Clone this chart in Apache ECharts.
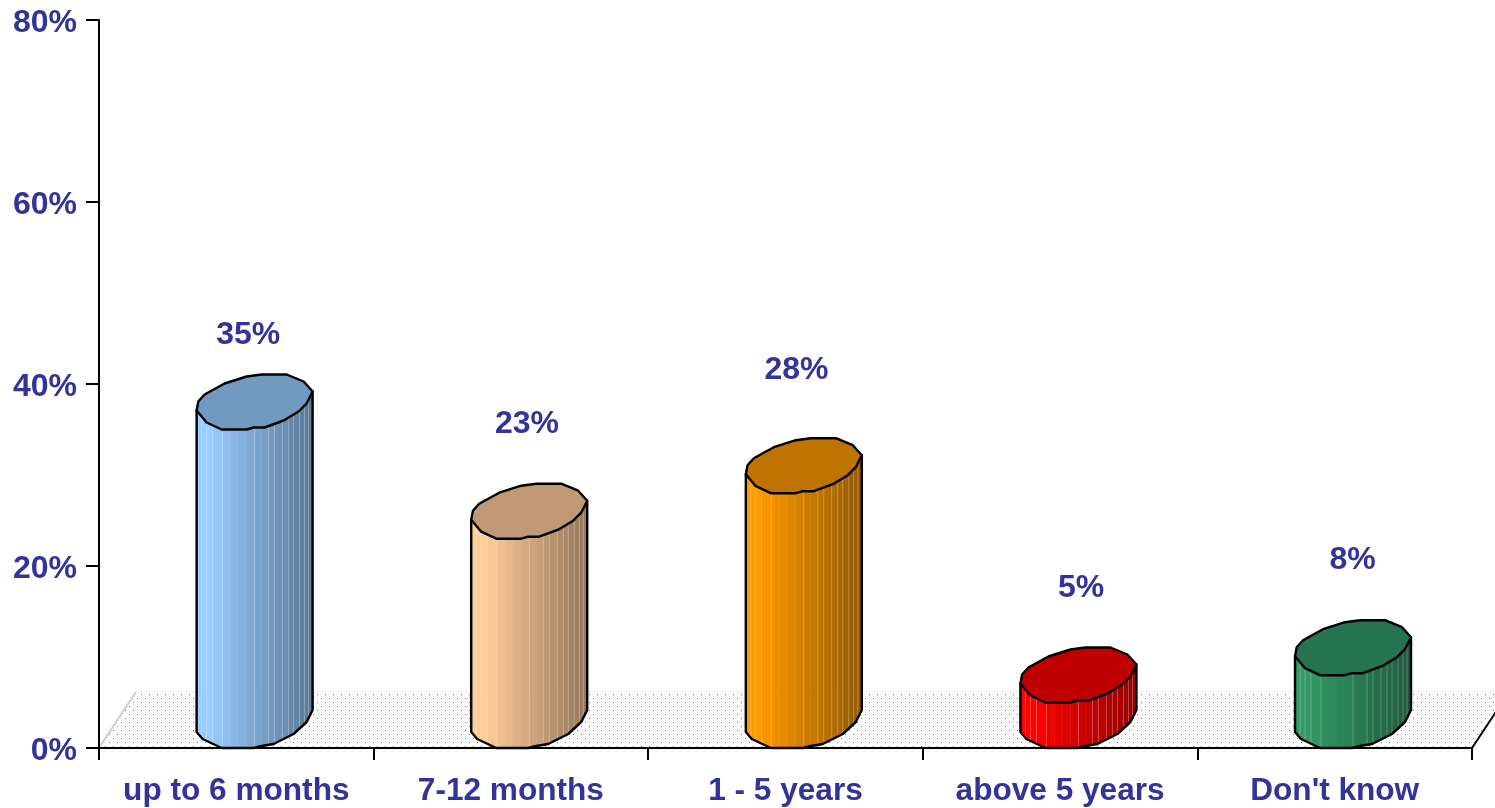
<!DOCTYPE html>
<html><head><meta charset="utf-8">
<style>html,body{margin:0;padding:0;background:#fff}#c{width:1495px;height:808px}</style>
<script src="https://cdn.jsdelivr.net/npm/echarts@6/dist/echarts.min.js"></script>
</head><body><div id="c"></div>
<script>
const categories = ['up to 6 months', '7-12 months', '1 - 5 years', 'above 5 years', "Don't know"];
const values = [35, 23, 28, 5, 8];
const yTicks = [0, 20, 40, 60, 80];

// styling, separate from the data
const bodyColors = ['#99CCFF', '#FFCC99', '#FF9900', '#FF0000', '#339966'];
const topColors = ['#7299BF', '#BF9973', '#BF7300', '#BF0000', '#267350'];
const labelNudge = [[12, -94], [16, -115], [11, -123], [21, -114], [18, -115]];
const INK = '#333399', FONT = '"Liberation Sans", Arial, sans-serif', FS = 32, FSX = 31.6;

// shape of the drawn cylinder, in px relative to left edge and front-bottom of the top disc
const topOutline = [[0,-19],[1.7,-28],[8,-35],[17,-40],[28,-46],[50,-53],[65,-55],[90,-55],[107,-48],[116,-38],[110,-26],[102,-18],[87,-9],[68,-2],[57,-2],[50,0],[25,0],[10,-7]];
const frontArc = [[0,-19],[10,-7],[25,0],[50,0],[57,-2],[68,-2],[87,-9],[102,-18],[110,-26],[116,-38]];
const bottomArc = [[0,-16],[6,-9],[25,0],[57,0],[65,-2],[77,-4],[97,-14],[110,-26],[116,-38]];
const facets = [0,5,10,16,26,34,42,50,58,65,72,78,86,92,97,103,108,112,116];
const lightEdges = [5,10,16,26,58,72,78,86,92,97,103,108,112];

function arcAt(arc,x){
  for(let i=1;i<arc.length;i++){
    const a=arc[i-1],b=arc[i];
    if(x<=b[0]) return a[1]+(b[1]-a[1])*(x-a[0])/((b[0]-a[0])||1);
  }
  return arc[arc.length-1][1];
}
function shade(hex,k){
  const n=parseInt(hex.slice(1),16);
  const c=[n>>16,(n>>8)&255,n&255].map(v=>Math.round(v*k));
  return `rgb(${c[0]},${c[1]},${c[2]})`;
}
function facetShade(x){ // brightest near the left, falling to the right
  const t=x/116; return t<0.12?1:1-(t-0.12)/0.88*0.42;
}
function dotPattern(){
  const c=document.createElement('canvas');c.width=8;c.height=8;
  const g=c.getContext('2d');g.fillStyle='#777';
  g.fillRect(1,2,1,1);g.fillRect(5,6,1,1);
  return c;
}

function renderFloor(params,api){
  const cs=params.coordSys, o=api.coord([0,0]);
  const y0=o[1], x0=cs.x, x1=cs.x+cs.width, dx=37, dy=56;
  return {type:'group',children:[
    {type:'polygon',shape:{points:[[x0,y0],[x0+dx,y0-dy],[x1+dx,y0-dy],[x1,y0]]},
     style:{fill:{image:dotPattern(),repeat:'repeat'},stroke:null}},
    {type:'line',shape:{x1:x0+dx,y1:y0-dy,x2:x1+dx,y2:y0-dy},style:{stroke:'#ececec',lineWidth:1}},
    {type:'line',shape:{x1:x0,y1:y0,x2:x0+dx,y2:y0-dy},style:{stroke:'#cfcfcf',lineWidth:2}},
    {type:'line',shape:{x1:x1,y1:y0,x2:x1+dx,y2:y0-dy},style:{stroke:'#000',lineWidth:2}}
  ]};
}

function renderCylinder(params,api){
  const i=params.dataIndex, band=api.size([1,0])[0];
  const p=api.coord([i,api.value(1)]), base=api.coord([i,0]);
  const left=p[0]-band*0.1445, yTop=p[1], yBase=base[1];
  const kids=[];
  const col=bodyColors[i];
  const yt=x=>yTop+arcAt(frontArc,x), yb=x=>yBase+arcAt(bottomArc,x);
  const rightTop=topOutline[9];
  for(let f=1;f<facets.length;f++){
    const a=facets[f-1],b=facets[f];
    const xs=[a];bottomArc.forEach(q=>{if(q[0]>a&&q[0]<b)xs.push(q[0]);});xs.push(b);
    const pts=[[left+a,yt(a)-1],[left+b,yt(b)-1]];
    xs.slice().reverse().forEach(x=>pts.push([left+x,yb(x)]));
    const c=shade(col,facetShade((a+b)/2));
    kids.push({type:'polygon',shape:{points:pts},style:{fill:c,stroke:c,lineWidth:0.5}});
  }
  lightEdges.forEach(x=>{
    kids.push({type:'line',shape:{x1:left+x,y1:yt(x),x2:left+x,y2:yb(x)},style:{stroke:'rgba(255,255,255,0.25)',lineWidth:1}});
  });
  const outline=[[left,yt(0)]].concat(bottomArc.map(q=>[left+q[0],yBase+q[1]]),[[left+rightTop[0],yTop+rightTop[1]]]);
  kids.push({type:'polyline',shape:{points:outline},style:{fill:null,stroke:'#000',lineWidth:2.4,lineJoin:'round',lineCap:'round'}});
  kids.push({type:'polygon',shape:{points:topOutline.map(q=>[left+q[0],yTop+q[1]])},style:{fill:topColors[i],stroke:'#000',lineWidth:2.4,lineJoin:'round'}});
  kids.push({type:'text',style:{text:values[i]+'%',x:p[0]+labelNudge[i][0],y:yTop+labelNudge[i][1],align:'center',verticalAlign:'middle',fill:INK,font:`bold ${FS}px ${FONT}`}});
  return {type:'group',children:kids};
}

const chart=echarts.init(document.getElementById('c'),null,{renderer:'canvas'});
chart.setOption({
  animation:false,
  backgroundColor:'#fff',
  grid:{left:99,right:23,top:20,bottom:60},
  xAxis:{type:'category',data:categories,z:3,
    axisLine:{show:true,lineStyle:{color:'#000',width:2}},
    axisTick:{show:true,alignWithLabel:false,length:12,lineStyle:{color:'#000',width:2}},
    axisLabel:{color:INK,fontFamily:FONT,fontWeight:'bold',fontSize:FSX,margin:27,interval:0},
    splitLine:{show:false}},
  yAxis:{type:'value',min:yTicks[0],max:yTicks[yTicks.length-1],interval:yTicks[1]-yTicks[0],z:3,
    axisLine:{show:true,lineStyle:{color:'#000',width:2}},
    axisTick:{show:true,length:13,lineStyle:{color:'#000',width:2}},
    axisLabel:{margin:22,formatter:'{a|{value}%}',
      rich:{a:{color:INK,fontFamily:FONT,fontWeight:'bold',fontSize:FS,padding:[7,0,0,0]}}},
    splitLine:{show:false}},
  series:[
    {type:'custom',z:1,coordinateSystem:'cartesian2d',clip:false,silent:true,renderItem:renderFloor,data:[[0,0]]},
    {type:'custom',z:4,coordinateSystem:'cartesian2d',clip:false,renderItem:renderCylinder,
     encode:{x:0,y:1},data:values.map((v,i)=>[i,v])}
  ]
});
</script></body></html>
